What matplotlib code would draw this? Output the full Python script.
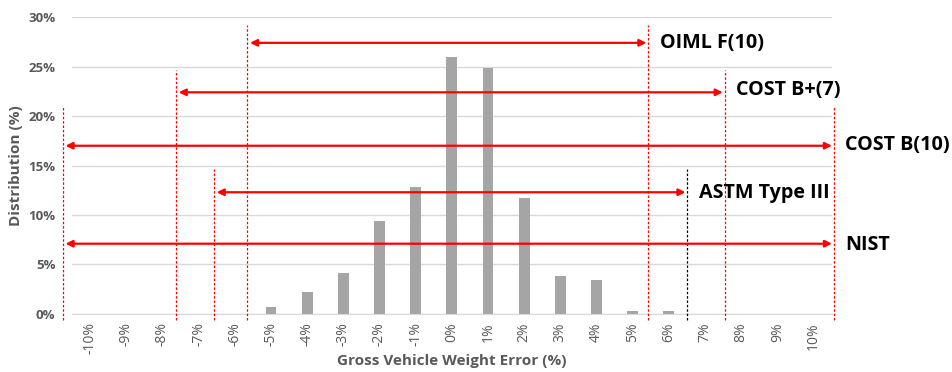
import matplotlib.pyplot as plt
import numpy as np

# error categories (%) and share of trucks in each bin (%)
errors = list(range(-10, 11))
share = [0, 0, 0, 0, 0, 0.7, 2.2, 4.1, 9.4, 12.8, 26.0,
         24.9, 11.7, 3.8, 3.4, 0.35, 0.35, 0, 0, 0, 0]

# tolerance bands: name, arrow height (%), lower / upper limit on the category axis
bands = ['OIML F(10)', 'COST B+(7)', 'COST B(10)', 'ASTM Type III', 'NIST']
band_y = [27.4, 22.4, 17.0, 12.3, 7.1]
band_lo = [-5.66, -7.63, -10.76, -6.58, -10.76]
band_hi = [5.43, 7.54, 10.56, 6.51, 10.56]
label_y = [27.4, 22.6, 17.1, 12.2, 7.0]
# top of the dotted limit lines
line_top = [29.2, 24.7, 20.9, 14.7, 20.9]

plt.rcParams['font.family'] = ['Open Sans', 'DejaVu Sans']
grey_txt = '#595959'
red = '#ff0000'

fig = plt.figure(figsize=(9.53, 3.72), dpi=100)
ax = fig.add_axes([0.0756, 0.156, 0.797, 0.798])

ax.bar(errors, share, width=0.3, color='#a5a5a5', zorder=2)

ax.set_xlim(-10.5, 10.5)
ax.set_ylim(0, 30)
ax.set_yticks(np.arange(0, 31, 5))
ax.set_yticklabels([f'{v}%' for v in range(0, 31, 5)], fontsize=9.5,
                   fontweight='bold', color=grey_txt)
ax.set_xticks(errors)
ax.set_xticklabels([f'{v}%' for v in errors], rotation=90, fontsize=10,
                   color=grey_txt)
ax.tick_params(axis='both', length=0)
ax.tick_params(axis='y', pad=12)
ax.tick_params(axis='x', pad=6)
ax.grid(axis='y', color='#d9d9d9', lw=1, zorder=0)
for s in ['top', 'right', 'left']:
    ax.spines[s].set_visible(False)
ax.spines['bottom'].set_color('#d9d9d9')

ax.set_ylabel('Distribution (%)', fontsize=11, fontweight='bold', color=grey_txt, labelpad=4)
ax.set_xlabel('Gross Vehicle Weight Error (%)', fontsize=11, fontweight='bold',
              color=grey_txt, labelpad=0)

# dotted limit lines
drawn = set()
for i in range(len(bands)):
    for x in (band_lo[i], band_hi[i]):
        if x in drawn:
            continue
        drawn.add(x)
        c = 'black' if bands[i] == 'ASTM Type III' and x == band_hi[i] else red
        ax.plot([x, x], [-0.6, line_top[i]], ls=(0, (2, 1.5)), lw=0.9, color=c,
                clip_on=False, zorder=3)

# double-headed arrows and band names
for i in range(len(bands)):
    ax.annotate('', xy=(band_lo[i] + 0.08, band_y[i]), xytext=(band_hi[i] - 0.05, band_y[i]),
                arrowprops=dict(arrowstyle='<|-|>', color=red, lw=1.6,
                                mutation_scale=10, shrinkA=0, shrinkB=0),
                annotation_clip=False, zorder=4)
    ax.text(band_hi[i] + 0.32, label_y[i], bands[i], fontsize=14.2, fontweight='bold',
            color='black', va='center', ha='left', clip_on=False)

fig.savefig('out.png', dpi=100)
